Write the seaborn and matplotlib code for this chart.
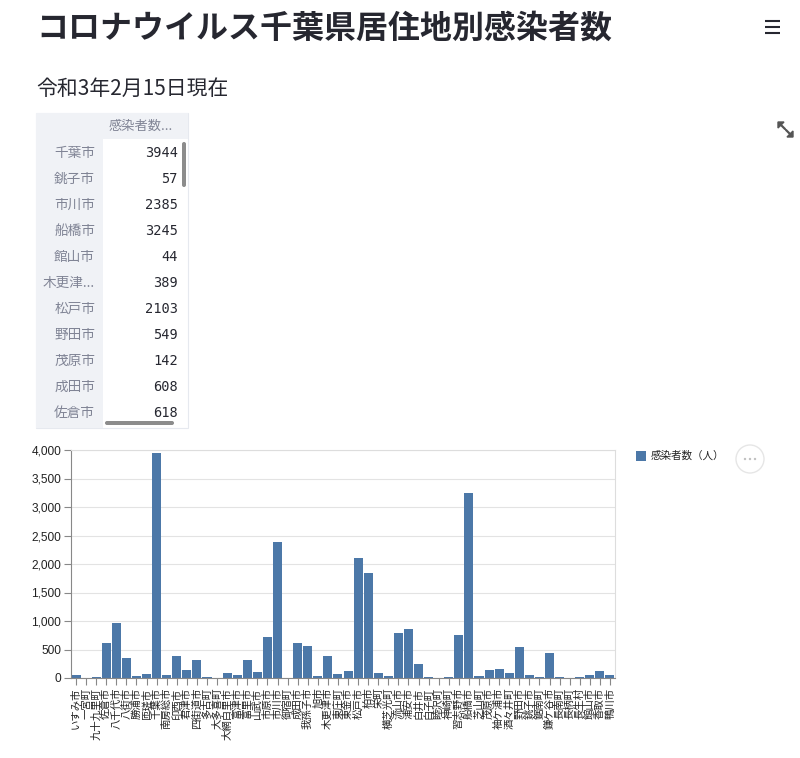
import matplotlib
matplotlib.use("Agg")
import matplotlib.pyplot as plt
import seaborn as sns
import pandas as pd
from matplotlib.patches import Rectangle, FancyBboxPatch, Circle, Polygon
from matplotlib.ticker import FuncFormatter, MultipleLocator

# ---------------- data ----------------
title = "コロナウイルス千葉県居住地別感染者数"
subtitle = "令和3年2月15日現在"
series_name = "感染者数（人）"
header_label = "感染者数..."

cities = [
    "いすみ市", "一宮町", "九十九里町", "佐倉市", "八千代市", "八街市", "勝浦市", "匝瑳市",
    "千葉市", "南房総市", "印西市", "君津市", "四街道市", "多古町", "大多喜町", "大網白里市",
    "富津市", "富里市", "山武市", "市原市", "市川市", "御宿町", "成田市", "我孫子市",
    "旭市", "木更津市", "東庄町", "東金市", "松戸市", "柏市", "栄町", "横芝光町",
    "流山市", "浦安市", "白井市", "白子町", "睦沢町", "神崎町", "習志野市", "船橋市",
    "芝山町", "茂原市", "袖ケ浦市", "酒々井町", "野田市", "銚子市", "鋸南町", "鎌ケ谷市",
    "長南町", "長柄町", "長生村", "館山市", "香取市", "鴨川市",
]
counts = [
    48, 8, 22, 618, 962, 358, 30, 66,
    3944, 45, 384, 133, 324, 24, 6, 82,
    47, 323, 112, 728, 2385, 5, 608, 569,
    35, 389, 72, 123, 2103, 1849, 82, 35,
    792, 851, 246, 12, 6, 10, 763, 3245,
    30, 142, 164, 94, 549, 57, 23, 446,
    10, 3, 12, 44, 129, 57,
]
table_rows = ["千葉市", "銚子市", "市川市", "船橋市", "館山市", "木更津市",
              "松戸市", "野田市", "茂原市", "成田市", "佐倉市"]

# ---------------- style ----------------
sns.set_theme(style="white")
plt.rcParams["font.family"] = ["Noto Sans CJK JP", "DejaVu Sans"]

W, H = 800, 758
fig = plt.figure(figsize=(W / 100, H / 100), dpi=100)
fig.patch.set_facecolor("white")

ui = fig.add_axes([0, 0, 1, 1])
ui.set_xlim(0, W)
ui.set_ylim(H, 0)
ui.axis("off")


def px(x0, y0, x1, y1):
    return [x0 / W, 1 - y1 / H, (x1 - x0) / W, (y1 - y0) / H]


TXT = "#262730"

# title / subtitle
ui.text(36, 29, title, fontsize=23, fontweight="bold", va="center", color=TXT)
ui.text(36, 89, subtitle, fontsize=15, va="center", color=TXT)

# hamburger menu
for yy in (21, 27, 33):
    ui.plot([765, 780], [yy, yy], color=TXT, lw=1.5, solid_capstyle="butt")

# expand icon
ic = "#555555"
ui.add_patch(Polygon([[778, 122], [784, 122], [778, 128]], closed=True, color=ic))
ui.plot([779, 785], [123, 129], color=ic, lw=1.6)
ui.add_patch(Polygon([[793, 137], [787, 137], [793, 131]], closed=True, color=ic))
ui.plot([786, 792], [130, 136], color=ic, lw=1.6)

# ---------------- table ----------------
lookup = dict(zip(cities, counts))
tx0, tx1, ty0, ty1 = 36, 188, 113, 428
idx_w = 67
row_h = 26
gray_bg = "#f0f2f6"
ui.add_patch(Rectangle((tx0, ty0), tx1 - tx0, ty1 - ty0, facecolor="white",
                       edgecolor="#e6e9ef", lw=0.8))
ui.add_patch(Rectangle((tx0, ty0), tx1 - tx0, row_h, facecolor=gray_bg, edgecolor="none"))
ui.add_patch(Rectangle((tx0, ty0), idx_w, ty1 - ty0, facecolor=gray_bg, edgecolor="none"))
ui.text(tx1 - 15, ty0 + 13, header_label, fontsize=9.5, color="#808495",
        ha="right", va="center")
for i, name in enumerate(table_rows):
    yc = ty0 + row_h + 14 + row_h * i
    label = name if len(name) <= 3 else name[:3] + "..."
    ui.text(tx0 + idx_w - 8, yc, label, fontsize=9.8, color="#808495",
            ha="right", va="center")
    ui.text(tx1 - 10, yc, str(lookup[name]), fontsize=9.8, color=TXT,
            family="DejaVu Sans Mono", ha="right", va="center")
# scrollbars
ui.add_patch(FancyBboxPatch((182, 142), 4, 45, boxstyle="round,pad=0,rounding_size=2",
                            facecolor="#8c8c8c", edgecolor="none"))
ui.add_patch(FancyBboxPatch((105, 421), 69, 4, boxstyle="round,pad=0,rounding_size=2",
                            facecolor="#8c8c8c", edgecolor="none"))

# ---------------- chart ----------------
ax = fig.add_axes(px(71, 450, 615, 678))
df = pd.DataFrame({"市区町村": cities, series_name: counts})
sns.barplot(data=df, x="市区町村", y=series_name, order=cities, color="#4c78a8",
            saturation=1, width=0.9, ax=ax, linewidth=0, edgecolor="none")
ax.set_xlim(-0.5, len(cities) - 0.5)
ax.set_ylim(0, 4000)
ax.yaxis.set_major_locator(MultipleLocator(500))
ax.yaxis.set_major_formatter(FuncFormatter(lambda v, p: f"{int(v):,}"))
ax.set_xlabel("")
ax.set_ylabel("")
ax.yaxis.grid(True, color="#e3e3e3", lw=0.8)
ax.set_axisbelow(True)
ax.tick_params(axis="both", bottom=True, left=True, length=5, width=0.8,
               color="#888888", pad=2)
ax.tick_params(axis="y", labelsize=8.6, labelcolor="#222222")
for lab in ax.get_yticklabels():
    lab.set_family(["Liberation Sans", "DejaVu Sans"])
ax.set_xticks(range(len(cities)))
ax.set_xticklabels(cities, rotation=90, fontsize=7.5, color="#222222")
for s in ("top", "right"):
    ax.spines[s].set_color("#dddddd")
    ax.spines[s].set_linewidth(0.8)
for s in ("left", "bottom"):
    ax.spines[s].set_color("#888888")
    ax.spines[s].set_linewidth(0.8)

# legend
ui.add_patch(Rectangle((636, 451), 10, 10, facecolor="#4c78a8", edgecolor="none"))
ui.text(651, 456, series_name, fontsize=7.6, va="center", color="#222222")

# "..." button
ui.add_patch(Circle((750, 459), 14, facecolor="white", edgecolor="#e6e6e6", lw=1))
for dx in (-5, 0, 5):
    ui.add_patch(Circle((750 + dx, 459), 1.2, facecolor="#c0c0c0", edgecolor="none"))

fig.savefig("out.png", dpi=100, facecolor="white")
